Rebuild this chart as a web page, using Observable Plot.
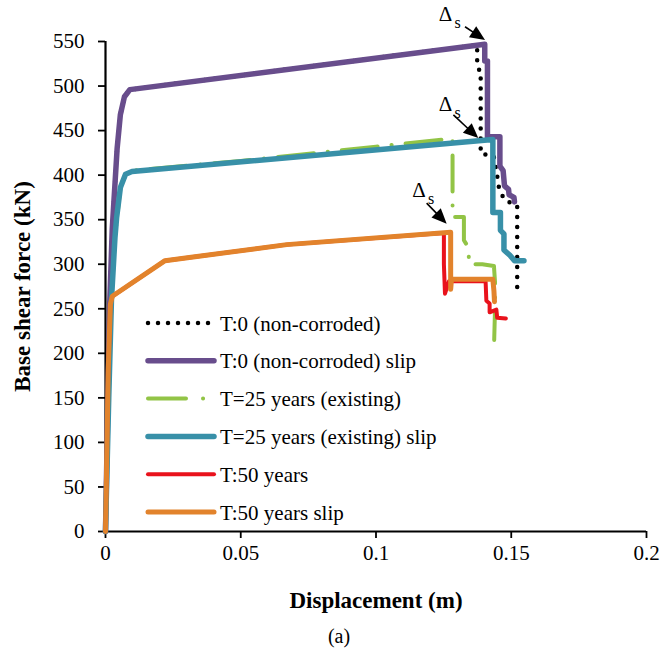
<!DOCTYPE html>
<html>
<head>
<meta charset="utf-8">
<script src="https://cdn.jsdelivr.net/npm/d3@7"></script>
<script src="https://cdn.jsdelivr.net/npm/@observablehq/plot@0.6"></script>
<style>
  html, body { margin: 0; padding: 0; background: white; }
</style>
</head>
<body>
<div id="chart"></div>
<script>
// ---------- data ----------
const seriesNames = [
  "T:0 (non-corroded)",
  "T:0 (non-corroded) slip",
  "T=25 years (existing)",
  "T=25 years (existing) slip",
  "T:50 years",
  "T:50 years slip"
];

// T:0 (non-corroded)
const t0X = [0, 0.0015, 0.0025, 0.0043, 0.0055, 0.007, 0.009, 0.1374, 0.1374, 0.1383, 0.1378, 0.1387, 0.1387, 0.1435, 0.1445, 0.1455, 0.1475, 0.1522, 0.1522];
const t0Y = [0, 250, 340, 430, 468, 488, 496, 546, 528, 520, 515, 513, 424, 422, 405, 385, 372, 366, 272];

// T:0 (non-corroded) slip
const t0sX = [0, 0.0015, 0.0025, 0.0043, 0.0055, 0.007, 0.009, 0.1402, 0.1402, 0.1412, 0.1412, 0.1458, 0.1458, 0.147, 0.1475, 0.149, 0.1492, 0.151, 0.1512];
const t0sY = [0, 250, 340, 430, 468, 488, 496, 547, 528, 528, 443, 443, 410, 405, 388, 384, 378, 375, 370];

// T=25 years (existing)
const t25X = [0, 0.0012, 0.0022, 0.0035, 0.0055, 0.0074, 0.0098, 0.05, 0.1, 0.1283, 0.1283, 0.1325, 0.1325, 0.1343, 0.1343, 0.1393, 0.1436, 0.144, 0.144, 0.1437];
const t25Y = [0, 150, 260, 330, 386, 401, 405, 416, 432, 441, 353, 353, 327, 318, 300, 300, 298, 280, 250, 215];

// T=25 years (existing) slip
const t25sX = [0, 0.0012, 0.0022, 0.0035, 0.0041, 0.0055, 0.0074, 0.0098, 0.1432, 0.1432, 0.146, 0.146, 0.1473, 0.1473, 0.1495, 0.1512, 0.1547];
const t25sY = [0, 150, 260, 330, 352, 386, 401, 404, 440, 358, 358, 338, 334, 316, 310, 304, 304];

// T:50 years
const t50X = [0, 0.0003, 0.001, 0.0018, 0.0025, 0.022, 0.067, 0.1251, 0.1251, 0.1255, 0.127, 0.1405, 0.1405, 0.1408, 0.142, 0.142, 0.1445, 0.1448, 0.148];
const t50Y = [0, 50, 180, 255, 264, 304, 322, 335, 300, 267, 281, 281, 282, 259, 256, 246, 249, 240, 239];

// T:50 years slip
const t50sX = [0, 0.0003, 0.001, 0.0018, 0.0025, 0.022, 0.067, 0.1276, 0.1276, 0.1279, 0.1432, 0.1436, 0.1438];
const t50sY = [0, 50, 180, 255, 264, 304, 322, 336, 272, 283, 283, 270, 258];

// axis ticks
const xTicks = [0, 0.05, 0.1, 0.15, 0.2];
const xTickLabels = ["0", "0.05", "0.1", "0.15", "0.2"];
const yTicks = [0, 50, 100, 150, 200, 250, 300, 350, 400, 450, 500, 550];

// Δs annotations (data units)
const annLabelX = [0.1257, 0.1257, 0.1159];
const annLabelY = [581, 480, 383];
const annFromX = [0.1331, 0.1288, 0.1189];
const annFromY = [566, 467, 368];
const annToX = [0.1405, 0.1380, 0.1263];
const annToY = [551, 441, 345];

// ---------- styles ----------
const serif = "'Liberation Serif', 'Times New Roman', serif";
const styles = [
  {stroke: "#000000", strokeWidth: 4.5, dash: "0,10", legendDash: "0,10"},
  {stroke: "#684D8C", strokeWidth: 5.5, dash: null, legendDash: null},
  {stroke: "#92C446", strokeWidth: 4, dash: "36,14,0.1,14", legendDash: "38,17,0.1,30"},
  {stroke: "#3890A8", strokeWidth: 5.5, dash: null, legendDash: null},
  {stroke: "#E9121C", strokeWidth: 4, dash: null, legendDash: null},
  {stroke: "#E2832C", strokeWidth: 5, dash: null, legendDash: null}
];

const seriesXY = [[t0X, t0Y], [t0sX, t0sY], [t25X, t25Y], [t25sX, t25sY], [t50X, t50Y], [t50sX, t50sY]];
const tables = seriesXY.map(([xs, ys], i) => xs.map((x, j) => ({x, y: ys[j], s: seriesNames[i]})));

const lineMarks = tables.map((t, i) => Plot.line(t, {
  x: "x", y: "y",
  stroke: styles[i].stroke,
  strokeWidth: styles[i].strokeWidth,
  strokeDasharray: styles[i].dash,
  strokeLinecap: "round",
  strokeLinejoin: "round"
}));

const annotations = annLabelX.map((x, i) => ({x, y: annLabelY[i], x1: annFromX[i], y1: annFromY[i], x2: annToX[i], y2: annToY[i]}));

function arrowMark(index, scales) {
  const g = d3.create("svg:g");
  for (const a of annotations) {
    const x1 = scales.x(a.x1), y1 = scales.y(a.y1), x2 = scales.x(a.x2), y2 = scales.y(a.y2);
    const dx = x2 - x1, dy = y2 - y1, len = Math.hypot(dx, dy);
    const ux = dx / len, uy = dy / len, hl = 15, hw = 6.5;
    const bx = x2 - ux * hl, by = y2 - uy * hl;
    g.append("line").attr("x1", x1).attr("y1", y1).attr("x2", bx + ux * 2).attr("y2", by + uy * 2)
      .attr("stroke", "black").attr("stroke-width", 1.6);
    g.append("path")
      .attr("d", `M${x2},${y2}L${bx - uy * hw},${by + ux * hw}L${bx + uy * hw},${by - ux * hw}Z`)
      .attr("fill", "black");
  }
  return g.node();
}

function legendMark(index, scales, values, dims) {
  const g = d3.create("svg:g");
  const x0 = dims.marginLeft + 43, x1 = dims.marginLeft + 109, tx = dims.marginLeft + 115;
  const y0 = dims.marginTop + 282, step = 37.8;
  seriesNames.forEach((name, i) => {
    const y = y0 + i * step;
    const st = styles[i];
    const ln = g.append("line").attr("x1", x0).attr("x2", i === 0 ? x1 - 4 : x1).attr("y1", y).attr("y2", y)
      .attr("stroke", st.stroke).attr("stroke-width", st.strokeWidth).attr("stroke-linecap", "round");
    if (st.legendDash) ln.attr("stroke-dasharray", st.legendDash);
    g.append("text").attr("x", tx).attr("y", y).attr("dy", "0.36em")
      .attr("text-anchor", "start").attr("font-family", serif)
      .attr("font-size", 21).attr("fill", "black").text(name);
  });
  return g.node();
}

const chart = Plot.plot({
  width: 661,
  height: 651,
  marginTop: 41,
  marginLeft: 105,
  marginRight: 15,
  marginBottom: 120,
  style: {fontFamily: serif, fontSize: "21px", color: "black", background: "white", overflow: "visible"},
  x: {domain: [0, 0.2]},
  y: {domain: [0, 550]},
  marks: [
    Plot.axisX({ticks: xTicks, tickFormat: (d) => xTickLabels[xTicks.indexOf(d)], tickSize: 7, tickPadding: 7, strokeWidth: 1.8, label: null, fontSize: 21, fontFamily: serif}),
    Plot.axisY({ticks: yTicks, tickSize: 7, tickPadding: 14, strokeWidth: 1.8, label: null, fontSize: 21, fontFamily: serif}),
    Plot.ruleX([0], {strokeWidth: 2.2}),
    Plot.ruleY([0], {strokeWidth: 2.2}),
    ...lineMarks,
    arrowMark,
    Plot.text(annotations, {x: "x", y: "y", text: () => "Δ", fontSize: 21, fontFamily: serif}),
    Plot.text(annotations, {x: "x", y: "y", text: () => "s", fontSize: 16, dx: 12, dy: 9, fontFamily: serif}),
    legendMark,
    Plot.text(["Displacement (m)"], {frameAnchor: "bottom", textAnchor: "middle", lineAnchor: "middle", dy: 69, fontWeight: "bold", fontSize: 23, fontFamily: serif}),
    Plot.text(["(a)"], {frameAnchor: "bottom", textAnchor: "middle", lineAnchor: "middle", dx: -37, dy: 105, fontSize: 20, fontFamily: serif}),
    Plot.text(["Base shear force (kN)"], {frameAnchor: "left", textAnchor: "middle", lineAnchor: "middle", dx: -83, rotate: -90, fontWeight: "bold", fontSize: 23, fontFamily: serif})
  ]
});

document.getElementById("chart").appendChild(chart);
</script>
</body>
</html>
